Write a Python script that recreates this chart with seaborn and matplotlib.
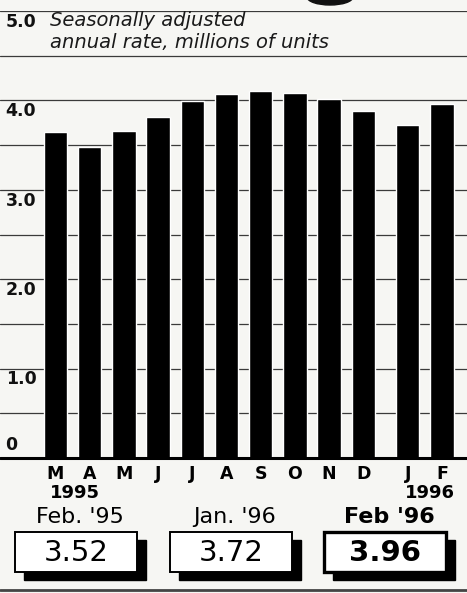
import numpy as np
import seaborn as sns
import matplotlib.pyplot as plt
from matplotlib.patches import Rectangle, Ellipse

# housing starts, seasonally adjusted annual rate (millions of units)
months = ["M", "A", "M", "J", "J", "A", "S", "O", "N", "D", "J", "F"]
starts = [3.65, 3.48, 3.66, 3.81, 3.99, 4.07, 4.10, 4.08, 4.02, 3.88, 3.72, 3.96]
ytick_vals = [0, 1, 2, 3, 4, 5]
ytick_lbls = ["0", "1.0", "2.0", "3.0", "4.0", "5.0"]
box_titles = ["Feb. '95", "Jan. '96", "Feb '96"]
box_values = ["3.52", "3.72", "3.96"]

W, H = 467, 593
bg = "#f6f6f3"

sns.set_theme(style="white")
plt.rcParams["font.family"] = ["DejaVu Sans"]
plt.rcParams["text.color"] = "black"
plt.rcParams["xtick.color"] = "black"


def fx(px):
    return px / W


def fy(py):
    return 1 - py / H


fig = plt.figure(figsize=(W / 100, H / 100), dpi=100, facecolor=bg)
ax = fig.add_axes([0, fy(458), 1, 447 / H], facecolor=bg)

# small extra gap between Dec and Jan (year break)
xpos = np.arange(len(months)) + np.where(np.arange(len(months)) >= 10, 0.3, 0.0)

sns.barplot(x=xpos, y=starts, native_scale=True, width=0.68, color="black",
            saturation=1, errorbar=None, ax=ax)

ax.set_xlim((0 - 55.5) / 34.2, (W - 55.5) / 34.2)
ax.set_ylim(0, 5)
ax.set_yticks(np.arange(0, 5.01, 0.5))
ax.grid(axis="y", color="#3a3a3a", lw=0.9)
ax.set_axisbelow(True)
ax.tick_params(axis="y", length=0, labelleft=False)
ax.set_xticks(xpos, months)
ax.tick_params(axis="x", length=0, pad=5, labelcolor="black")
for t in ax.get_xticklabels():
    t.set_fontsize(12.5)
    t.set_fontweight("bold")
for s in ax.spines.values():
    s.set_visible(False)
ax.axhline(0, color="black", lw=2.2, clip_on=False, zorder=5)

# y labels sit inside the plot, just below each gridline
for v, lbl in zip(ytick_vals, ytick_lbls):
    yy = v + 0.15 if v == 0 else v - 0.12
    ax.text(0.012, yy, lbl, transform=ax.get_yaxis_transform(), ha="left",
            va="center", fontsize=12.5, fontweight="bold", color="#111111")

fig.text(fx(50), fy(20), "Seasonally adjusted", fontsize=14, style="italic",
         va="center", ha="left", color="#1a1a1a")
fig.text(fx(50), fy(43), "annual rate, millions of units", fontsize=14,
         style="italic", va="center", ha="left", color="#1a1a1a")

# cut-off artwork at the very top
fig.patches.append(Ellipse((fx(330), fy(-3)), 46 / W, 16 / H,
                           transform=fig.transFigure, color="#111111"))

fig.text(fx(75), fy(493), "1995", fontsize=13, fontweight="bold",
         ha="center", va="center")
fig.text(fx(430), fy(493), "1996", fontsize=13, fontweight="bold",
         ha="center", va="center")

box_left = [15, 170, 324]
for i, (ttl, val) in enumerate(zip(box_titles, box_values)):
    x0 = box_left[i]
    last = i == len(box_titles) - 1
    fig.text(fx(x0 + 65), fy(517), ttl, fontsize=16, ha="center", va="center",
             fontweight="bold" if last else "normal")
    fig.patches.append(Rectangle((fx(x0 + 9), fy(580)), 122 / W, 40 / H,
                                 transform=fig.transFigure, color="black"))
    fig.patches.append(Rectangle((fx(x0), fy(572)), 122 / W, 40 / H,
                                 transform=fig.transFigure, facecolor="white",
                                 edgecolor="black", lw=2.4 if last else 1.4))
    fig.text(fx(x0 + 61), fy(553), val, fontsize=21, ha="center", va="center",
             fontweight="bold" if last else "normal", zorder=5)

fig.lines.append(plt.Line2D([0, 1], [fy(590), fy(590)], transform=fig.transFigure,
                            color="#444444", lw=2))

fig.savefig("out.png", dpi=100, facecolor=bg)
